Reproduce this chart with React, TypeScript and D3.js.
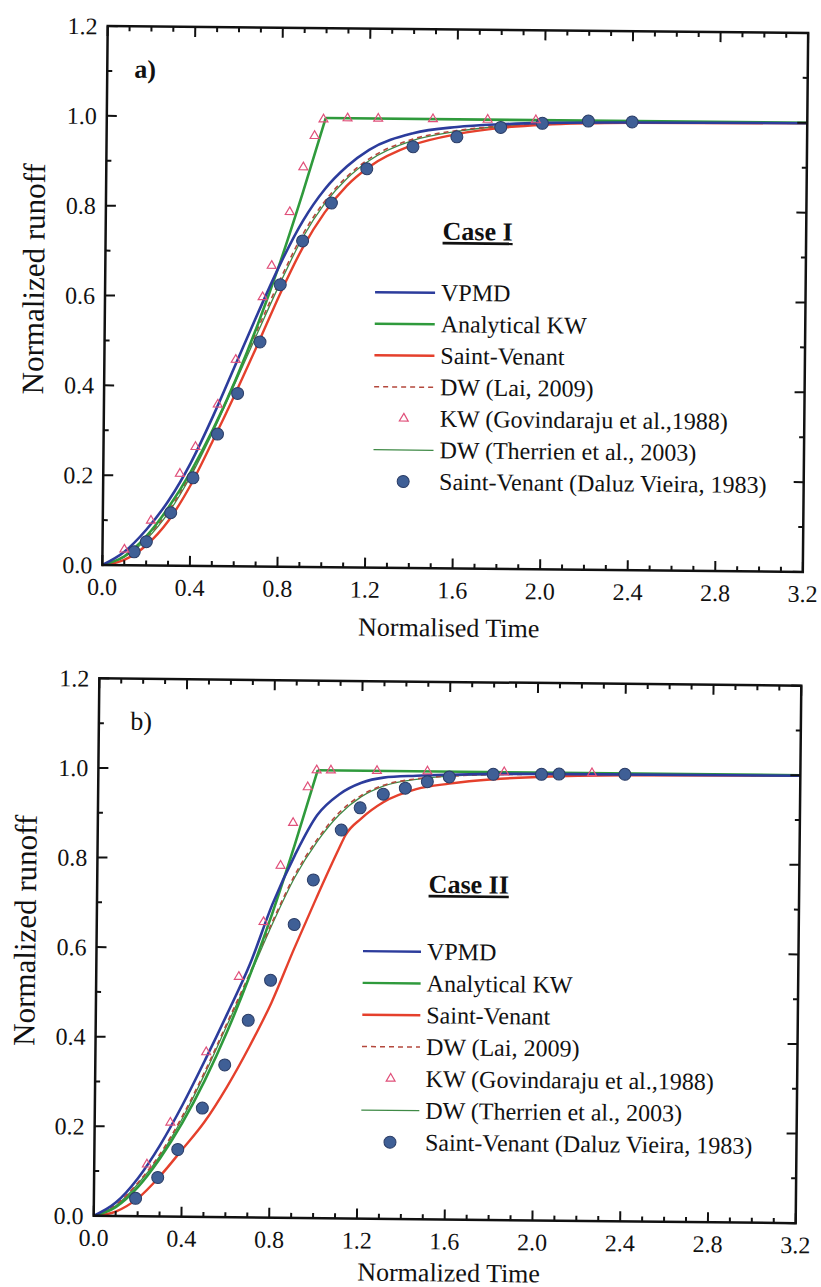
import React from "react";
import * as d3 from "d3";

type Pt = [number, number];

// ---------- tick labels & legend text ----------
const X_TICK_LABELS = ["0.0", "0.4", "0.8", "1.2", "1.6", "2.0", "2.4", "2.8", "3.2"];
const Y_TICK_LABELS = ["0.0", "0.2", "0.4", "0.6", "0.8", "1.0", "1.2"];
const LEGEND_LABELS = [
  "VPMD",
  "Analytical KW",
  "Saint-Venant",
  "DW (Lai, 2009)",
  "KW (Govindaraju et al.,1988)",
  "DW (Therrien et al., 2003)",
  "Saint-Venant (Daluz Vieira, 1983)",
];

// ---------- shared analytical kinematic wave ----------
const KW_ANALYTICAL_RISE: Pt[] = [
  [0, 0], [0.1, 0.02], [0.2, 0.065], [0.3, 0.13], [0.4, 0.21], [0.5, 0.305],
  [0.6, 0.415], [0.7, 0.54], [0.8, 0.68], [0.9, 0.835], [1.0, 1.0],
];
const KW_ANALYTICAL_PLATEAU: Pt[] = [[1.0, 1.0], [3.2, 1.0]];

// ---------- Case I (panel a) ----------
const VPMD_A: Pt[] = [
  [0, 0], [0.1, 0.03], [0.2, 0.08], [0.3, 0.145], [0.4, 0.23], [0.5, 0.335],
  [0.6, 0.45], [0.7, 0.565], [0.8, 0.675], [0.9, 0.77], [1.0, 0.842], [1.1, 0.893],
  [1.2, 0.93], [1.4, 0.968], [1.6, 0.983], [1.8, 0.99], [2.0, 0.994], [2.4, 0.997], [3.2, 0.999],
];
const SV_A: Pt[] = [
  [0, 0], [0.1, 0.012], [0.2, 0.045], [0.3, 0.1], [0.4, 0.18], [0.5, 0.28],
  [0.6, 0.385], [0.7, 0.495], [0.8, 0.608], [0.9, 0.71], [1.0, 0.79], [1.1, 0.85],
  [1.2, 0.892], [1.4, 0.942], [1.6, 0.967], [1.8, 0.982], [2.0, 0.99], [2.4, 0.996], [3.2, 0.999],
];
const DW_LAI_A: Pt[] = [
  [0, 0], [0.1, 0.02], [0.2, 0.062], [0.3, 0.122], [0.4, 0.205], [0.5, 0.305],
  [0.6, 0.415], [0.7, 0.53], [0.8, 0.64], [0.9, 0.74], [1.0, 0.815], [1.1, 0.87],
  [1.2, 0.91], [1.4, 0.955], [1.6, 0.975], [1.8, 0.986], [2.0, 0.992], [2.4, 0.996], [3.2, 0.999],
];
const DW_THERRIEN_A: Pt[] = [
  [0, 0], [0.1, 0.018], [0.2, 0.058], [0.3, 0.118], [0.4, 0.2], [0.5, 0.3],
  [0.6, 0.41], [0.7, 0.522], [0.8, 0.632], [0.9, 0.733], [1.0, 0.81], [1.1, 0.866],
  [1.2, 0.906], [1.4, 0.952], [1.6, 0.973], [1.8, 0.985], [2.0, 0.991], [2.4, 0.996], [3.2, 0.999],
];
const KW_GOV_A: Pt[] = [
  [0.1, 0.035], [0.22, 0.1], [0.35, 0.205], [0.42, 0.265], [0.52, 0.36], [0.6, 0.46],
  [0.72, 0.6], [0.76, 0.67], [0.84, 0.79], [0.9, 0.89], [0.95, 0.96], [0.99, 0.997],
  [1.1, 1.0], [1.24, 1.0], [1.49, 1.0], [1.74, 1.0], [1.96, 1.0],
];
const SV_DALUZ_A: Pt[] = [
  [0.145, 0.03], [0.2, 0.053], [0.31, 0.118], [0.41, 0.196], [0.52, 0.294], [0.61, 0.385],
  [0.71, 0.5], [0.8, 0.628], [0.9, 0.726], [1.03, 0.811], [1.19, 0.888], [1.4, 0.938],
  [1.6, 0.961], [1.8, 0.983], [1.99, 0.993], [2.2, 0.999], [2.4, 0.998],
];

// ---------- Case II (panel b) ----------
const VPMD_B: Pt[] = [
  [0, 0], [0.1, 0.03], [0.2, 0.085], [0.3, 0.16], [0.4, 0.25], [0.5, 0.35],
  [0.6, 0.455], [0.7, 0.565], [0.8, 0.7], [0.9, 0.81], [1.0, 0.9], [1.1, 0.947],
  [1.2, 0.973], [1.3, 0.985], [1.45, 0.99], [1.6, 0.993], [2.0, 0.997], [3.2, 0.999],
];
const SV_B: Pt[] = [
  [0, 0], [0.1, 0.01], [0.2, 0.04], [0.3, 0.09], [0.4, 0.15], [0.5, 0.212],
  [0.6, 0.29], [0.7, 0.38], [0.8, 0.48], [0.9, 0.6], [1.0, 0.715], [1.1, 0.825],
  [1.13, 0.856], [1.2, 0.893], [1.3, 0.93], [1.45, 0.96], [1.6, 0.973], [1.8, 0.984],
  [2.0, 0.99], [2.4, 0.996], [3.2, 0.999],
];
const DW_LAI_B: Pt[] = [
  [0, 0], [0.1, 0.025], [0.2, 0.075], [0.3, 0.14], [0.4, 0.225], [0.5, 0.325],
  [0.6, 0.435], [0.7, 0.545], [0.8, 0.66], [0.9, 0.765], [1.0, 0.845], [1.1, 0.906],
  [1.2, 0.945], [1.3, 0.968], [1.45, 0.983], [1.6, 0.99], [2.0, 0.996], [3.2, 0.999],
];
const DW_THERRIEN_B: Pt[] = [
  [0, 0], [0.1, 0.023], [0.2, 0.072], [0.3, 0.136], [0.4, 0.22], [0.5, 0.32],
  [0.6, 0.43], [0.7, 0.54], [0.8, 0.655], [0.9, 0.76], [1.0, 0.84], [1.1, 0.901],
  [1.2, 0.942], [1.3, 0.966], [1.45, 0.982], [1.6, 0.99], [2.0, 0.996], [3.2, 0.999],
];
const KW_GOV_B: Pt[] = [
  [0.24, 0.116], [0.345, 0.21], [0.505, 0.368], [0.65, 0.537], [0.76, 0.66], [0.835, 0.786],
  [0.89, 0.882], [0.955, 0.962], [0.995, 1.0], [1.06, 1.0], [1.27, 1.0], [1.5, 1.0],
  [1.85, 1.0], [2.25, 1.0],
];
const SV_DALUZ_B: Pt[] = [
  [0.19, 0.04], [0.29, 0.087], [0.38, 0.15], [0.49, 0.243], [0.59, 0.34], [0.695, 0.44],
  [0.795, 0.53], [0.9, 0.655], [0.985, 0.755], [1.11, 0.867], [1.195, 0.917], [1.3, 0.948],
  [1.4, 0.962], [1.5, 0.977], [1.6, 0.988], [1.8, 0.995], [2.02, 0.996], [2.1, 0.997], [2.4, 0.998],
];

// ---------- styles ----------
const FONT = "'Liberation Serif', 'Times New Roman', serif";
const C_VPMD = "#2c3c9c";
const C_KW = "#2f9a3c";
const C_SV = "#e5402c";
const C_LAI = "#b4483c";
const C_GOV = "#e0507a";
const C_THER = "#3f8a46";
const C_DOT = "#3f5f96";
const C_DOT_EDGE = "#2a3c66";

interface Geo {
  left: number; right: number; top: number; bottom: number; rot: number;
  legX: number; legY: number; legDy: number; lineLen: number;
  caseX: number; caseY: number; tagX: number; tagY: number; xTitleDy: number;
}

interface PanelData {
  vpmd: Pt[]; sv: Pt[]; lai: Pt[]; ther: Pt[]; gov: Pt[]; daluz: Pt[];
}

function Panel(props: { g: Geo; d: PanelData; tag: string; tagBold: boolean; caseLabel: string; xTitle: string }) {
  const { g, d, tag, tagBold, caseLabel, xTitle } = props;
  const x = d3.scaleLinear().domain([0, 3.2]).range([g.left, g.right]);
  const y = d3.scaleLinear().domain([0, 1.2]).range([g.bottom, g.top]);
  const smooth = d3.line<Pt>().x((p) => x(p[0])).y((p) => y(p[1])).curve(d3.curveMonotoneX);
  const straight = d3.line<Pt>().x((p) => x(p[0])).y((p) => y(p[1]));
  const tri = d3.symbol().type(d3.symbolTriangle).size(34)();
  const cx = (g.left + g.right) / 2;
  const cy = (g.top + g.bottom) / 2;

  const xTicks = d3.range(0, 33).map((i) => ({ v: i / 10, major: i % 4 === 0 }));
  const yTicks = d3.range(0, 13).map((i) => ({ v: i / 10, major: i % 2 === 0 }));

  const lg = (i: number) => g.legY + i * g.legDy;
  const lx0 = g.legX - 6 - g.lineLen;
  const lx1 = g.legX - 6;
  const mx = (lx0 + lx1) / 2;

  return (
    <g transform={`rotate(${g.rot} ${cx} ${cy})`} fontFamily={FONT} fill="#111">
      {/* curves */}
      <path d={smooth(d.ther) || ""} fill="none" stroke={C_THER} strokeWidth={1.3} />
      <path d={smooth(d.sv) || ""} fill="none" stroke={C_SV} strokeWidth={2.4} />
      <path d={smooth(d.lai) || ""} fill="none" stroke={C_LAI} strokeWidth={1.6} strokeDasharray="5,4" />
      <path d={smooth(KW_ANALYTICAL_RISE) || ""} fill="none" stroke={C_KW} strokeWidth={2.6} />
      <path d={straight(KW_ANALYTICAL_PLATEAU) || ""} fill="none" stroke={C_KW} strokeWidth={2.6} />
      <path d={smooth(d.vpmd) || ""} fill="none" stroke={C_VPMD} strokeWidth={2.6} />
      {/* markers */}
      {d.daluz.map((p, i) => (
        <circle key={"d" + i} cx={x(p[0])} cy={y(p[1])} r={6} fill={C_DOT} stroke={C_DOT_EDGE} strokeWidth={1} />
      ))}
      {d.gov.map((p, i) => (
        <path key={"g" + i} d={tri || ""} transform={`translate(${x(p[0])},${y(p[1])})`} fill="none" stroke={C_GOV} strokeWidth={1.2} />
      ))}

      {/* frame */}
      <rect x={g.left} y={g.top} width={g.right - g.left} height={g.bottom - g.top} fill="none" stroke="#111" strokeWidth={2.5} />
      {xTicks.map((t, i) => {
        const len = t.major ? 10 : 5;
        const px = x(t.v);
        return (
          <g key={"xt" + i}>
            <line x1={px} x2={px} y1={g.bottom} y2={g.bottom - len} stroke="#111" strokeWidth={2} />
            <line x1={px} x2={px} y1={g.top} y2={g.top + len} stroke="#111" strokeWidth={2} />
          </g>
        );
      })}
      {yTicks.map((t, i) => {
        const len = t.major ? 10 : 5;
        const py = y(t.v);
        return (
          <g key={"yt" + i}>
            <line x1={g.left} x2={g.left + len} y1={py} y2={py} stroke="#111" strokeWidth={2} />
            <line x1={g.right} x2={g.right - len} y1={py} y2={py} stroke="#111" strokeWidth={2} />
          </g>
        );
      })}
      {X_TICK_LABELS.map((s) => (
        <text key={"xl" + s} x={x(parseFloat(s))} y={g.bottom + 30} fontSize={24} textAnchor="middle">{s}</text>
      ))}
      {Y_TICK_LABELS.map((s) => (
        <text key={"yl" + s} x={g.left - 10} y={y(parseFloat(s))} dy="0.35em" fontSize={24} textAnchor="end">{s}</text>
      ))}

      {/* axis titles */}
      <text x={452} y={g.bottom + g.xTitleDy} fontSize={26} textAnchor="middle">{xTitle}</text>
      <text transform={`translate(${g.left - 72},${cy - 16}) rotate(-90)`} dy="0.35em" fontSize={31} textAnchor="middle">Normalized runoff</text>

      {/* tag and case label */}
      <text x={g.tagX} y={g.tagY} fontSize={26} fontWeight={tagBold ? "bold" : "normal"}>{tag}</text>
      <text x={g.caseX} y={g.caseY} fontSize={26} fontWeight="bold" style={{ textDecoration: "underline" }}>{caseLabel}</text>

      {/* legend */}
      <line x1={lx0} x2={lx1} y1={lg(0)} y2={lg(0)} stroke={C_VPMD} strokeWidth={2.4} />
      <line x1={lx0} x2={lx1} y1={lg(1)} y2={lg(1)} stroke={C_KW} strokeWidth={2.4} />
      <line x1={lx0} x2={lx1} y1={lg(2)} y2={lg(2)} stroke={C_SV} strokeWidth={2.4} />
      <line x1={lx0} x2={lx1} y1={lg(3)} y2={lg(3)} stroke={C_LAI} strokeWidth={1.5} strokeDasharray="5,4" />
      <path d={tri || ""} transform={`translate(${mx},${lg(4)})`} fill="none" stroke={C_GOV} strokeWidth={1.2} />
      <line x1={lx0} x2={lx1} y1={lg(5)} y2={lg(5)} stroke={C_THER} strokeWidth={1.3} />
      <circle cx={mx} cy={lg(6)} r={6} fill={C_DOT} stroke={C_DOT_EDGE} strokeWidth={1} />
      {LEGEND_LABELS.map((s, i) => (
        <text key={"lg" + i} x={g.legX} y={lg(i)} dy="0.33em" fontSize={24}>{s}</text>
      ))}
    </g>
  );
}

const GEO_A: Geo = {
  left: 105, right: 805.5, top: 29.5, bottom: 568.5, rot: 0.57,
  legX: 441, legY: 293, legDy: 31.5, lineLen: 60,
  caseX: 442, caseY: 240, tagX: 132, tagY: 81, xTitleDy: 68,
};
const GEO_B: Geo = {
  left: 96.5, right: 798.5, top: 682, bottom: 1219.5, rot: 0.6,
  legX: 427, legY: 952, legDy: 31.8, lineLen: 58,
  caseX: 428, caseY: 893, tagX: 128, tagY: 733, xTitleDy: 62,
};

export default function App() {
  return (
    <svg width={821} height={1287} style={{ position: "absolute", left: 0, top: 0 }}>
      <rect x={0} y={0} width={821} height={1287} fill="#fff" />
      <Panel
        g={GEO_A}
        d={{ vpmd: VPMD_A, sv: SV_A, lai: DW_LAI_A, ther: DW_THERRIEN_A, gov: KW_GOV_A, daluz: SV_DALUZ_A }}
        tag="a)" tagBold={true} caseLabel="Case I" xTitle="Normalised Time"
      />
      <Panel
        g={GEO_B}
        d={{ vpmd: VPMD_B, sv: SV_B, lai: DW_LAI_B, ther: DW_THERRIEN_B, gov: KW_GOV_B, daluz: SV_DALUZ_B }}
        tag="b)" tagBold={false} caseLabel="Case II" xTitle="Normalized Time"
      />
    </svg>
  );
}
